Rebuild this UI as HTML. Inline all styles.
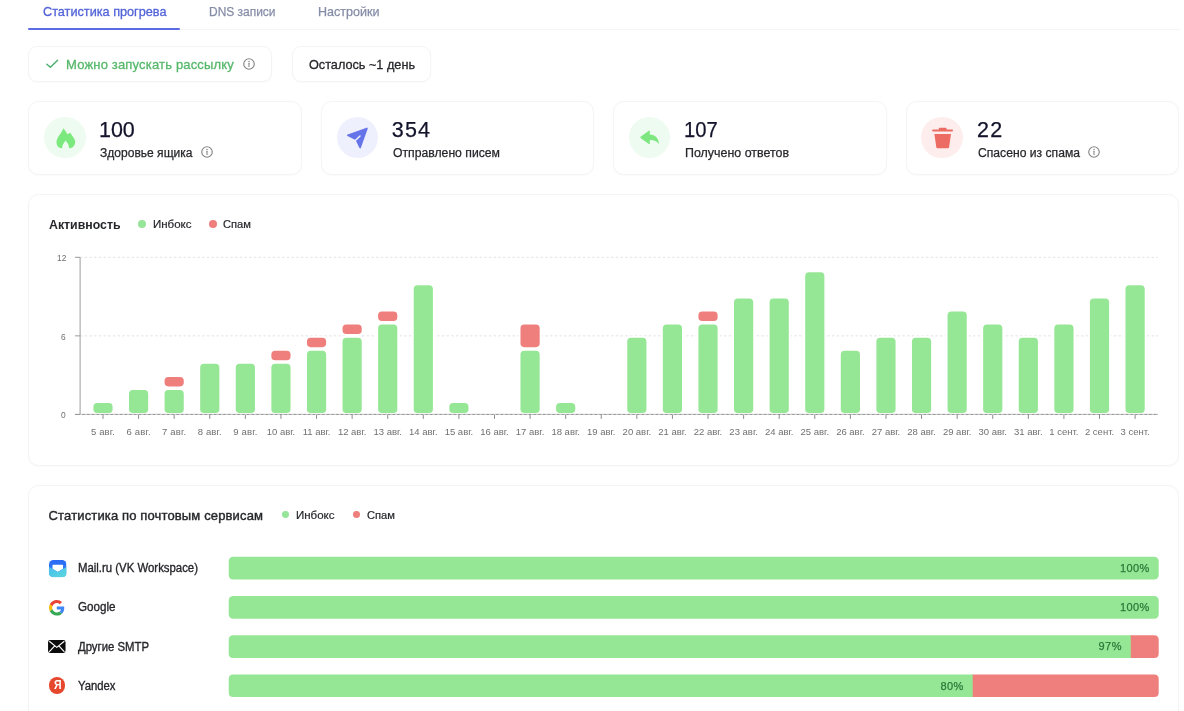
<!DOCTYPE html>
<html lang="ru"><head><meta charset="utf-8"><title>Статистика прогрева</title>
<style>
html,body{margin:0;padding:0;background:#fff;}
body{width:1184px;height:711px;overflow:hidden;position:relative;font-family:"Liberation Sans",sans-serif;}
.a,.b,.t{position:absolute;}
.b{box-sizing:border-box;background:#fff;}
.t{white-space:nowrap;line-height:1;transform-origin:0 50%;}
svg{display:block;overflow:visible}
</style></head><body>
<div class="a" style="left:28.4px;top:29px;width:1152px;height:1.4px;background:#f5f5f7"></div>
<div class="a" style="left:28.2px;top:28px;width:151.8px;height:2px;background:#5b6be2;border-radius:1px"></div>
<span class="t " style="left:42.50px;top:5.20px;font-size:13px;color:#5263d8;transform:scaleX(0.9757);-webkit-text-stroke:0.3px #5263d8;">Статистика прогрева</span>
<span class="t " style="left:208.50px;top:5.20px;font-size:13px;color:#858ca6;transform:scaleX(0.9196);-webkit-text-stroke:0.25px #858ca6;">DNS записи</span>
<span class="t " style="left:318.00px;top:5.20px;font-size:13px;color:#858ca6;transform:scaleX(0.9648);-webkit-text-stroke:0.25px #858ca6;">Настройки</span>
<div class="b" style="left:28.4px;top:46px;width:244px;height:35.6px;border-radius:9px;border:1px solid #f3f4f6;box-shadow:0 1px 2px rgba(20,20,40,0.025);"></div>
<svg class="a" style="left:45.4px;top:58.3px" width="14" height="12" viewBox="0 0 14 12"><path d="M1.9 6.2 L5.4 9.3 L12.6 2.3" fill="none" stroke="#4fae70" stroke-width="1.5" stroke-linecap="round" stroke-linejoin="round"/></svg>
<span class="t " style="left:66.00px;top:57.50px;font-size:13px;color:#57b86b;letter-spacing:0.173px;-webkit-text-stroke:0.3px #57b86b;">Можно запускать рассылку</span>
<svg class="a" style="left:241px;top:56.3px" width="16" height="16" viewBox="-8 -8 16 16"><circle r="5.25" fill="none" stroke="#868686" stroke-width="1.15"/><circle cy="-2.6" r="0.75" fill="#868686"/><rect x="-0.55" y="-1.2" width="1.1" height="4.2" rx="0.5" fill="#868686"/></svg>
<div class="b" style="left:292.4px;top:46px;width:138.4px;height:35.6px;border-radius:9px;border:1px solid #f3f4f6;box-shadow:0 1px 2px rgba(20,20,40,0.025);"></div>
<span class="t " style="left:308.60px;top:57.50px;font-size:13px;color:#26272b;transform:scaleX(0.9752);-webkit-text-stroke:0.3px #26272b;">Осталось ~1 день</span>
<div class="b" style="left:28.4px;top:101px;width:273.35px;height:73.6px;border-radius:10.5px;border:1px solid #f3f4f6;box-shadow:0 1px 2px rgba(20,20,40,0.025);"></div>
<div class="a" style="left:44.2px;top:117px;width:41.4px;height:41.4px;border-radius:50%;background:#eefbf0"></div>
<div class="b" style="left:320.8px;top:101px;width:273.35px;height:73.6px;border-radius:10.5px;border:1px solid #f3f4f6;box-shadow:0 1px 2px rgba(20,20,40,0.025);"></div>
<div class="a" style="left:336.6px;top:117px;width:41.4px;height:41.4px;border-radius:50%;background:#eef0fd"></div>
<div class="b" style="left:613.2px;top:101px;width:273.35px;height:73.6px;border-radius:10.5px;border:1px solid #f3f4f6;box-shadow:0 1px 2px rgba(20,20,40,0.025);"></div>
<div class="a" style="left:629.0px;top:117px;width:41.4px;height:41.4px;border-radius:50%;background:#eefbf0"></div>
<div class="b" style="left:905.6px;top:101px;width:273.35px;height:73.6px;border-radius:10.5px;border:1px solid #f3f4f6;box-shadow:0 1px 2px rgba(20,20,40,0.025);"></div>
<div class="a" style="left:921.4px;top:117px;width:41.4px;height:41.4px;border-radius:50%;background:#fdeeed"></div>
<span class="t " style="left:99.30px;top:119.80px;font-size:21.5px;color:#12132a;transform:scaleX(0.9980);-webkit-text-stroke:0.25px #12132a;">100</span>
<span class="t " style="left:100.00px;top:146.52px;font-size:12.5px;color:#26272b;transform:scaleX(0.9635);-webkit-text-stroke:0.25px #26272b;">Здоровье ящика</span>
<span class="t " style="left:391.80px;top:119.80px;font-size:21.5px;color:#12132a;letter-spacing:1.143px;-webkit-text-stroke:0.25px #12132a;">354</span>
<span class="t " style="left:392.50px;top:146.52px;font-size:12.5px;color:#26272b;transform:scaleX(0.9763);-webkit-text-stroke:0.25px #26272b;">Отправлено писем</span>
<span class="t " style="left:684.30px;top:119.80px;font-size:21.5px;color:#12132a;transform:scaleX(0.9394);-webkit-text-stroke:0.25px #12132a;">107</span>
<span class="t " style="left:685.00px;top:146.52px;font-size:12.5px;color:#26272b;transform:scaleX(0.9941);-webkit-text-stroke:0.25px #26272b;">Получено ответов</span>
<span class="t " style="left:977.00px;top:119.80px;font-size:21.5px;color:#12132a;letter-spacing:1.243px;-webkit-text-stroke:0.25px #12132a;">22</span>
<span class="t " style="left:977.50px;top:146.52px;font-size:12.5px;color:#26272b;transform:scaleX(0.9716);-webkit-text-stroke:0.25px #26272b;">Спасено из спама</span>
<svg class="a" style="left:199px;top:143.9px" width="16" height="16" viewBox="-8 -8 16 16"><circle r="5.25" fill="none" stroke="#868686" stroke-width="1.15"/><circle cy="-2.6" r="0.75" fill="#868686"/><rect x="-0.55" y="-1.2" width="1.1" height="4.2" rx="0.5" fill="#868686"/></svg>
<svg class="a" style="left:1086px;top:143.9px" width="16" height="16" viewBox="-8 -8 16 16"><circle r="5.25" fill="none" stroke="#868686" stroke-width="1.15"/><circle cy="-2.6" r="0.75" fill="#868686"/><rect x="-0.55" y="-1.2" width="1.1" height="4.2" rx="0.5" fill="#868686"/></svg>
<svg class="a" style="left:54.5px;top:126.5px" width="21" height="23" viewBox="0 0 21 23"><path d="M8.3 1.3 C9.6 3 11.3 5 12.3 7.3 C13.1 6.6 14.2 6 15.4 5.7 C16.4 8.6 20.2 11 20.2 15.2 C20.2 18.2 18.2 20.4 15.2 21.3 C14.6 21.5 13.9 21.2 14 20.6 C14.2 18 12.2 16 10.6 13.6 C9 16 7 18 7.3 20.6 C7.4 21.2 6.6 21.5 6 21.3 C3.2 20.4 1.5 18.2 1.5 15.4 C1.5 10 6.6 6.8 8.3 1.3 Z" fill="#7be97e"/></svg>
<svg class="a" style="left:345px;top:125px" width="26" height="26" viewBox="0 0 26 26"><path d="M2.9 10.2 L21.9 3.5 L15.1 22.5 L11.3 14.6 Z" fill="#6574e8" stroke="#6574e8" stroke-width="1.7" stroke-linejoin="round"/><path d="M9.6 16.2 L15 11" stroke="#eef0fd" stroke-width="1.5" stroke-linecap="round" fill="none"/></svg>
<svg class="a" style="left:638px;top:127px" width="24" height="22" viewBox="0 0 24 22"><path d="M11.8 4.2 L11.8 7.6 C17.2 8 20.4 11 21.2 17 C19 14.2 16.2 13 11.8 13 L11.8 16.6 C11.8 17.2 11.2 17.4 10.8 17.1 L2.6 10.9 C2.2 10.6 2.2 10.1 2.6 9.8 L10.8 3.7 C11.2 3.4 11.8 3.6 11.8 4.2 Z" fill="#7de680"/></svg>
<svg class="a" style="left:930px;top:125px" width="26" height="26" viewBox="0 0 26 26"><path d="M8.8 4.4 L8.8 3.7 Q8.8 2.7 9.8 2.7 L15.6 2.7 Q16.6 2.7 16.6 3.7 L16.6 4.4 L22 4.4 Q23 4.4 23 5.4 Q23 6.4 22 6.4 L3.1 6.4 Q2.1 6.4 2.1 5.4 Q2.1 4.4 3.1 4.4 Z M4.4 9 L21 9 L19.1 22.2 Q18.95 23.2 17.9 23.2 L7.5 23.2 Q6.45 23.2 6.3 22.2 Z" fill="#ec6b63"/></svg>
<div class="b" style="left:28.4px;top:194px;width:1150.6px;height:271.6px;border-radius:10.5px;border:1px solid #f3f4f6;box-shadow:0 1px 2px rgba(20,20,40,0.025);"></div>
<span class="t " style="left:48.60px;top:218.52px;font-size:12.5px;color:#26272b;transform:scaleX(0.9855);font-weight:700;">Активность</span>
<div class="a" style="left:138.0px;top:220.3px;width:7.8px;height:7.8px;border-radius:50%;background:#97e598"></div>
<span class="t " style="left:152.50px;top:219.37px;font-size:11.5px;color:#26272b;transform:scaleX(0.9998);-webkit-text-stroke:0.2px #26272b;">Инбокс</span>
<div class="a" style="left:209.4px;top:220.3px;width:7.8px;height:7.8px;border-radius:50%;background:#ee7f7c"></div>
<span class="t " style="left:223.30px;top:219.37px;font-size:11.5px;color:#26272b;transform:scaleX(0.9711);-webkit-text-stroke:0.2px #26272b;">Спам</span>
<svg class="a" style="left:0;top:240px" width="1184" height="210" viewBox="0 240 1184 210"><line x1="80" x2="1158" y1="257.32" y2="257.32" stroke="#e2e2e2" stroke-width="1" stroke-dasharray="2.4 2.3"/><line x1="75" x2="80" y1="257.32" y2="257.32" stroke="#9a9a9a" stroke-width="1"/><line x1="80" x2="1158" y1="335.86" y2="335.86" stroke="#e2e2e2" stroke-width="1" stroke-dasharray="2.4 2.3"/><line x1="75" x2="80" y1="335.86" y2="335.86" stroke="#9a9a9a" stroke-width="1"/><line x1="80.1" x2="80.1" y1="257.32" y2="414.40" stroke="#9c9c9c" stroke-width="1"/><rect x="92.40" y="402.11" width="21.2" height="11.89" rx="4.8" fill="#96e795" stroke="#fff" stroke-width="2"/><line x1="103.00" x2="103.00" y1="414.40" y2="418.90" stroke="#8c8c8c" stroke-width="1"/><rect x="127.99" y="389.02" width="21.2" height="24.98" rx="4.8" fill="#96e795" stroke="#fff" stroke-width="2"/><line x1="138.59" x2="138.59" y1="414.40" y2="418.90" stroke="#8c8c8c" stroke-width="1"/><rect x="163.58" y="389.02" width="21.2" height="24.98" rx="4.8" fill="#96e795" stroke="#fff" stroke-width="2"/><rect x="163.58" y="375.93" width="21.2" height="11.49" rx="4.8" fill="#ee7f7c" stroke="#fff" stroke-width="2"/><line x1="174.18" x2="174.18" y1="414.40" y2="418.90" stroke="#8c8c8c" stroke-width="1"/><rect x="199.17" y="362.84" width="21.2" height="51.16" rx="4.8" fill="#96e795" stroke="#fff" stroke-width="2"/><line x1="209.77" x2="209.77" y1="414.40" y2="418.90" stroke="#8c8c8c" stroke-width="1"/><rect x="234.76" y="362.84" width="21.2" height="51.16" rx="4.8" fill="#96e795" stroke="#fff" stroke-width="2"/><line x1="245.36" x2="245.36" y1="414.40" y2="418.90" stroke="#8c8c8c" stroke-width="1"/><rect x="270.35" y="362.84" width="21.2" height="51.16" rx="4.8" fill="#96e795" stroke="#fff" stroke-width="2"/><rect x="270.35" y="349.75" width="21.2" height="11.49" rx="4.8" fill="#ee7f7c" stroke="#fff" stroke-width="2"/><line x1="280.95" x2="280.95" y1="414.40" y2="418.90" stroke="#8c8c8c" stroke-width="1"/><rect x="305.94" y="349.75" width="21.2" height="64.25" rx="4.8" fill="#96e795" stroke="#fff" stroke-width="2"/><rect x="305.94" y="336.66" width="21.2" height="11.49" rx="4.8" fill="#ee7f7c" stroke="#fff" stroke-width="2"/><line x1="316.54" x2="316.54" y1="414.40" y2="418.90" stroke="#8c8c8c" stroke-width="1"/><rect x="341.53" y="336.66" width="21.2" height="77.34" rx="4.8" fill="#96e795" stroke="#fff" stroke-width="2"/><rect x="341.53" y="323.57" width="21.2" height="11.49" rx="4.8" fill="#ee7f7c" stroke="#fff" stroke-width="2"/><line x1="352.13" x2="352.13" y1="414.40" y2="418.90" stroke="#8c8c8c" stroke-width="1"/><rect x="377.12" y="323.57" width="21.2" height="90.43" rx="4.8" fill="#96e795" stroke="#fff" stroke-width="2"/><rect x="377.12" y="310.48" width="21.2" height="11.49" rx="4.8" fill="#ee7f7c" stroke="#fff" stroke-width="2"/><line x1="387.72" x2="387.72" y1="414.40" y2="418.90" stroke="#8c8c8c" stroke-width="1"/><rect x="412.71" y="284.30" width="21.2" height="129.70" rx="4.8" fill="#96e795" stroke="#fff" stroke-width="2"/><line x1="423.31" x2="423.31" y1="414.40" y2="418.90" stroke="#8c8c8c" stroke-width="1"/><rect x="448.30" y="402.11" width="21.2" height="11.89" rx="4.8" fill="#96e795" stroke="#fff" stroke-width="2"/><line x1="458.90" x2="458.90" y1="414.40" y2="418.90" stroke="#8c8c8c" stroke-width="1"/><line x1="494.49" x2="494.49" y1="414.40" y2="418.90" stroke="#8c8c8c" stroke-width="1"/><rect x="519.48" y="349.75" width="21.2" height="64.25" rx="4.8" fill="#96e795" stroke="#fff" stroke-width="2"/><rect x="519.48" y="323.57" width="21.2" height="24.58" rx="4.8" fill="#ee7f7c" stroke="#fff" stroke-width="2"/><line x1="530.08" x2="530.08" y1="414.40" y2="418.90" stroke="#8c8c8c" stroke-width="1"/><rect x="555.07" y="402.11" width="21.2" height="11.89" rx="4.8" fill="#96e795" stroke="#fff" stroke-width="2"/><line x1="565.67" x2="565.67" y1="414.40" y2="418.90" stroke="#8c8c8c" stroke-width="1"/><line x1="601.26" x2="601.26" y1="414.40" y2="418.90" stroke="#8c8c8c" stroke-width="1"/><rect x="626.24" y="336.66" width="21.2" height="77.34" rx="4.8" fill="#96e795" stroke="#fff" stroke-width="2"/><line x1="636.84" x2="636.84" y1="414.40" y2="418.90" stroke="#8c8c8c" stroke-width="1"/><rect x="661.83" y="323.57" width="21.2" height="90.43" rx="4.8" fill="#96e795" stroke="#fff" stroke-width="2"/><line x1="672.43" x2="672.43" y1="414.40" y2="418.90" stroke="#8c8c8c" stroke-width="1"/><rect x="697.42" y="323.57" width="21.2" height="90.43" rx="4.8" fill="#96e795" stroke="#fff" stroke-width="2"/><rect x="697.42" y="310.48" width="21.2" height="11.49" rx="4.8" fill="#ee7f7c" stroke="#fff" stroke-width="2"/><line x1="708.02" x2="708.02" y1="414.40" y2="418.90" stroke="#8c8c8c" stroke-width="1"/><rect x="733.01" y="297.39" width="21.2" height="116.61" rx="4.8" fill="#96e795" stroke="#fff" stroke-width="2"/><line x1="743.61" x2="743.61" y1="414.40" y2="418.90" stroke="#8c8c8c" stroke-width="1"/><rect x="768.60" y="297.39" width="21.2" height="116.61" rx="4.8" fill="#96e795" stroke="#fff" stroke-width="2"/><line x1="779.20" x2="779.20" y1="414.40" y2="418.90" stroke="#8c8c8c" stroke-width="1"/><rect x="804.19" y="271.21" width="21.2" height="142.79" rx="4.8" fill="#96e795" stroke="#fff" stroke-width="2"/><line x1="814.79" x2="814.79" y1="414.40" y2="418.90" stroke="#8c8c8c" stroke-width="1"/><rect x="839.78" y="349.75" width="21.2" height="64.25" rx="4.8" fill="#96e795" stroke="#fff" stroke-width="2"/><line x1="850.38" x2="850.38" y1="414.40" y2="418.90" stroke="#8c8c8c" stroke-width="1"/><rect x="875.37" y="336.66" width="21.2" height="77.34" rx="4.8" fill="#96e795" stroke="#fff" stroke-width="2"/><line x1="885.97" x2="885.97" y1="414.40" y2="418.90" stroke="#8c8c8c" stroke-width="1"/><rect x="910.96" y="336.66" width="21.2" height="77.34" rx="4.8" fill="#96e795" stroke="#fff" stroke-width="2"/><line x1="921.56" x2="921.56" y1="414.40" y2="418.90" stroke="#8c8c8c" stroke-width="1"/><rect x="946.55" y="310.48" width="21.2" height="103.52" rx="4.8" fill="#96e795" stroke="#fff" stroke-width="2"/><line x1="957.15" x2="957.15" y1="414.40" y2="418.90" stroke="#8c8c8c" stroke-width="1"/><rect x="982.14" y="323.57" width="21.2" height="90.43" rx="4.8" fill="#96e795" stroke="#fff" stroke-width="2"/><line x1="992.74" x2="992.74" y1="414.40" y2="418.90" stroke="#8c8c8c" stroke-width="1"/><rect x="1017.73" y="336.66" width="21.2" height="77.34" rx="4.8" fill="#96e795" stroke="#fff" stroke-width="2"/><line x1="1028.33" x2="1028.33" y1="414.40" y2="418.90" stroke="#8c8c8c" stroke-width="1"/><rect x="1053.32" y="323.57" width="21.2" height="90.43" rx="4.8" fill="#96e795" stroke="#fff" stroke-width="2"/><line x1="1063.92" x2="1063.92" y1="414.40" y2="418.90" stroke="#8c8c8c" stroke-width="1"/><rect x="1088.91" y="297.39" width="21.2" height="116.61" rx="4.8" fill="#96e795" stroke="#fff" stroke-width="2"/><line x1="1099.51" x2="1099.51" y1="414.40" y2="418.90" stroke="#8c8c8c" stroke-width="1"/><rect x="1124.50" y="284.30" width="21.2" height="129.70" rx="4.8" fill="#96e795" stroke="#fff" stroke-width="2"/><line x1="1135.10" x2="1135.10" y1="414.40" y2="418.90" stroke="#8c8c8c" stroke-width="1"/><line x1="75" x2="1158" y1="414.40" y2="414.40" stroke="#8c8c8c" stroke-width="1"/><line x1="80" x2="1158" y1="414.40" y2="414.40" stroke="#ffffff" stroke-opacity="0.45" stroke-width="1.4" stroke-dasharray="2.4 2.3"/></svg>
<span class="t " style="left:90.88px;top:426.66px;font-size:9.5px;color:#707070;letter-spacing:0.174px;">5 авг.</span>
<span class="t " style="left:126.47px;top:426.66px;font-size:9.5px;color:#707070;letter-spacing:0.174px;">6 авг.</span>
<span class="t " style="left:162.06px;top:426.66px;font-size:9.5px;color:#707070;letter-spacing:0.174px;">7 авг.</span>
<span class="t " style="left:197.65px;top:426.66px;font-size:9.5px;color:#707070;letter-spacing:0.174px;">8 авг.</span>
<span class="t " style="left:233.24px;top:426.66px;font-size:9.5px;color:#707070;letter-spacing:0.174px;">9 авг.</span>
<span class="t " style="left:266.71px;top:426.66px;font-size:9.5px;color:#707070;">10 авг.</span>
<span class="t " style="left:302.65px;top:426.66px;font-size:9.5px;color:#707070;">11 авг.</span>
<span class="t " style="left:337.89px;top:426.66px;font-size:9.5px;color:#707070;">12 авг.</span>
<span class="t " style="left:373.48px;top:426.66px;font-size:9.5px;color:#707070;">13 авг.</span>
<span class="t " style="left:409.07px;top:426.66px;font-size:9.5px;color:#707070;">14 авг.</span>
<span class="t " style="left:444.66px;top:426.66px;font-size:9.5px;color:#707070;">15 авг.</span>
<span class="t " style="left:480.25px;top:426.66px;font-size:9.5px;color:#707070;">16 авг.</span>
<span class="t " style="left:515.84px;top:426.66px;font-size:9.5px;color:#707070;">17 авг.</span>
<span class="t " style="left:551.42px;top:426.66px;font-size:9.5px;color:#707070;">18 авг.</span>
<span class="t " style="left:587.01px;top:426.66px;font-size:9.5px;color:#707070;">19 авг.</span>
<span class="t " style="left:622.60px;top:426.66px;font-size:9.5px;color:#707070;">20 авг.</span>
<span class="t " style="left:658.19px;top:426.66px;font-size:9.5px;color:#707070;">21 авг.</span>
<span class="t " style="left:693.78px;top:426.66px;font-size:9.5px;color:#707070;">22 авг.</span>
<span class="t " style="left:729.37px;top:426.66px;font-size:9.5px;color:#707070;">23 авг.</span>
<span class="t " style="left:764.96px;top:426.66px;font-size:9.5px;color:#707070;">24 авг.</span>
<span class="t " style="left:800.55px;top:426.66px;font-size:9.5px;color:#707070;">25 авг.</span>
<span class="t " style="left:836.14px;top:426.66px;font-size:9.5px;color:#707070;">26 авг.</span>
<span class="t " style="left:871.73px;top:426.66px;font-size:9.5px;color:#707070;">27 авг.</span>
<span class="t " style="left:907.32px;top:426.66px;font-size:9.5px;color:#707070;">28 авг.</span>
<span class="t " style="left:942.91px;top:426.66px;font-size:9.5px;color:#707070;">29 авг.</span>
<span class="t " style="left:978.50px;top:426.66px;font-size:9.5px;color:#707070;">30 авг.</span>
<span class="t " style="left:1014.09px;top:426.66px;font-size:9.5px;color:#707070;">31 авг.</span>
<span class="t " style="left:1049.35px;top:426.66px;font-size:9.5px;color:#707070;">1 сент.</span>
<span class="t " style="left:1084.94px;top:426.66px;font-size:9.5px;color:#707070;">2 сент.</span>
<span class="t " style="left:1120.53px;top:426.66px;font-size:9.5px;color:#707070;">3 сент.</span>
<span class="t " style="left:56.50px;top:253.28px;font-size:9.5px;color:#6e6e6e;transform:scaleX(0.8800);">12</span>
<span class="t " style="left:61.15px;top:331.82px;font-size:9.5px;color:#6e6e6e;transform:scaleX(0.8800);">6</span>
<span class="t " style="left:61.15px;top:410.36px;font-size:9.5px;color:#6e6e6e;transform:scaleX(0.8800);">0</span>
<div class="b" style="left:28.4px;top:485px;width:1150.6px;height:240px;border-radius:10.5px;border:1px solid #f3f4f6;box-shadow:0 1px 2px rgba(20,20,40,0.025);"></div>
<span class="t " style="left:48.60px;top:509.10px;font-size:13px;color:#26272b;letter-spacing:0.140px;-webkit-text-stroke:0.4px #26272b;">Статистика по почтовым сервисам</span>
<div class="a" style="left:282.0px;top:511.4px;width:6.8px;height:6.8px;border-radius:50%;background:#97e598"></div>
<span class="t " style="left:295.80px;top:510.27px;font-size:11.5px;color:#26272b;transform:scaleX(0.9998);-webkit-text-stroke:0.2px #26272b;">Инбокс</span>
<div class="a" style="left:353.0px;top:511.4px;width:6.8px;height:6.8px;border-radius:50%;background:#ee7f7c"></div>
<span class="t " style="left:366.60px;top:510.27px;font-size:11.5px;color:#26272b;transform:scaleX(0.9711);-webkit-text-stroke:0.2px #26272b;">Спам</span>
<svg class="a" style="left:0;top:540px" width="1184" height="171" viewBox="0 540 1184 171"><rect x="228.70" y="556.80" width="930.0" height="22.7" rx="4.5" fill="#96e795"/><rect x="228.70" y="596.00" width="930.0" height="22.7" rx="4.5" fill="#96e795"/><path d="M1129.80 635.20 L1154.20 635.20 Q1158.70 635.20 1158.70 639.70 L1158.70 653.40 Q1158.70 657.90 1154.20 657.90 L1129.80 657.90 Z" fill="#ee7f7c"/><path d="M1130.80 635.20 L233.20 635.20 Q228.70 635.20 228.70 639.70 L228.70 653.40 Q228.70 657.90 233.20 657.90 L1130.80 657.90 Z" fill="#96e795"/><path d="M971.70 674.40 L1154.20 674.40 Q1158.70 674.40 1158.70 678.90 L1158.70 692.60 Q1158.70 697.10 1154.20 697.10 L971.70 697.10 Z" fill="#ee7f7c"/><path d="M972.70 674.40 L233.20 674.40 Q228.70 674.40 228.70 678.90 L228.70 692.60 Q228.70 697.10 233.20 697.10 L972.70 697.10 Z" fill="#96e795"/></svg>
<span class="t " style="left:1119.98px;top:562.99px;font-size:11px;color:#2a7a3a;letter-spacing:0.422px;-webkit-text-stroke:0.25px #2a7a3a;">100%</span>
<span class="t " style="left:77.80px;top:562.12px;font-size:12.5px;color:#26272b;transform:scaleX(0.9108);-webkit-text-stroke:0.35px #26272b;">Mail.ru (VK Workspace)</span>
<span class="t " style="left:1119.98px;top:602.19px;font-size:11px;color:#2a7a3a;letter-spacing:0.422px;-webkit-text-stroke:0.25px #2a7a3a;">100%</span>
<span class="t " style="left:77.80px;top:601.32px;font-size:12.5px;color:#26272b;transform:scaleX(0.9303);-webkit-text-stroke:0.35px #26272b;">Google</span>
<span class="t " style="left:1098.56px;top:641.39px;font-size:11px;color:#2a7a3a;letter-spacing:0.440px;-webkit-text-stroke:0.25px #2a7a3a;">97%</span>
<span class="t " style="left:77.80px;top:640.52px;font-size:12.5px;color:#26272b;transform:scaleX(0.9077);-webkit-text-stroke:0.35px #26272b;">Другие SMTP</span>
<span class="t " style="left:940.46px;top:680.59px;font-size:11px;color:#2a7a3a;letter-spacing:0.440px;-webkit-text-stroke:0.25px #2a7a3a;">80%</span>
<span class="t " style="left:77.80px;top:679.72px;font-size:12.5px;color:#26272b;transform:scaleX(0.9043);-webkit-text-stroke:0.35px #26272b;">Yandex</span>
<svg class="a" style="left:48.7px;top:559.5px" width="17.5" height="17.3" viewBox="0 0 18 18" preserveAspectRatio="none"><defs><linearGradient id="mg" x1="0" y1="0" x2="0" y2="1"><stop offset="0" stop-color="#2a68f5"/><stop offset="1" stop-color="#3a8af0"/></linearGradient><linearGradient id="mc" x1="0" y1="0" x2="1" y2="1"><stop offset="0" stop-color="#49bfee"/><stop offset="1" stop-color="#5bd8dc"/></linearGradient><clipPath id="mk"><rect width="18" height="18" rx="4.6"/></clipPath></defs><g clip-path="url(#mk)"><rect width="18" height="18" fill="url(#mg)"/><path d="M3.6 5.7 Q3.6 4.9 4.4 4.9 L13.6 4.9 Q14.4 4.9 14.4 5.7 L14.4 9 L9 12.6 L3.6 9 Z" fill="#fff"/><path d="M0 7.4 L8.2 12 Q9 12.45 9.8 12 L18 7.4 L18 18 L0 18 Z" fill="url(#mc)"/></g></svg>
<svg class="a" style="left:49.4px;top:599.6px" width="15.6" height="15.6" viewBox="0 0 48 48"><path fill="#EA4335" d="M24 9.5c3.54 0 6.71 1.22 9.21 3.6l6.85-6.85C35.9 2.38 30.47 0 24 0 14.62 0 6.51 5.38 2.56 13.22l7.98 6.19C12.43 13.72 17.74 9.5 24 9.5z"/><path fill="#4285F4" d="M46.98 24.55c0-1.57-.15-3.09-.38-4.55H24v9.02h12.94c-.58 2.96-2.26 5.48-4.78 7.18l7.73 6c4.51-4.18 7.09-10.36 7.09-17.65z"/><path fill="#FBBC05" d="M10.53 28.59c-.48-1.45-.76-2.99-.76-4.59s.27-3.14.76-4.59l-7.98-6.19C.92 16.46 0 20.12 0 24c0 3.88.92 7.54 2.56 10.78l7.97-6.19z"/><path fill="#34A853" d="M24 48c6.48 0 11.93-2.13 15.89-5.81l-7.73-6c-2.15 1.45-4.92 2.3-8.16 2.3-6.26 0-11.57-4.22-13.47-9.91l-7.98 6.19C6.51 42.62 14.62 48 24 48z"/></svg>
<svg class="a" style="left:48.4px;top:640.2px" width="17.6" height="13" viewBox="0 0 18 13.4"><rect width="18" height="13.4" rx="2.2" fill="#0b0b0b"/><path d="M1.6 1.6 L9 7.6 L16.4 1.6 M1.6 11.8 L6.6 6.2 M16.4 11.8 L11.4 6.2" fill="none" stroke="#fff" stroke-width="1.2" stroke-linecap="round" stroke-linejoin="round"/></svg>
<div class="a" style="left:48.8px;top:677.3px;width:16.6px;height:16.6px;border-radius:50%;background:#e6482e"></div>
<span class="t " style="left:53.53px;top:679.46px;font-size:12.8px;color:#fff;transform:scaleX(0.8200);font-weight:700;">Я</span>
</body></html>
